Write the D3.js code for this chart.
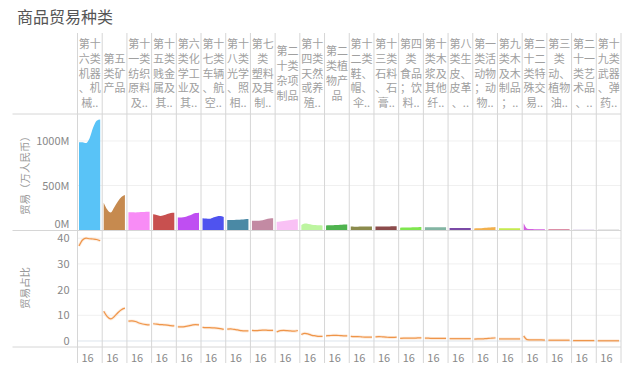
<!DOCTYPE html>
<html><head><meta charset="utf-8">
<script src="https://cdn.jsdelivr.net/npm/d3@7"></script>
<style>
html,body{margin:0;padding:0;background:#fff;}
svg text{font-family:"Noto Sans CJK SC","Noto Sans",sans-serif;}
</style></head>
<body><svg id="c" width="640" height="380"></svg>
<script>
const title = "商品贸易种类";
const categories = [
 "第十六类机器、机械器具、电气设备","第五类矿产品","第十一类纺织原料及纺织制品","第十五类贱金属及其制品",
 "第六类化学工业及其相关工业的产品","第十七类车辆、航空器、船舶","第十八类光学、照相、医疗等仪器","第七类塑料及其制品；橡胶",
 "第二十类杂项制品","第十四类天然或养殖珍珠、宝石","第二类植物产品","第十二类鞋、帽、伞等",
 "第十三类石料、石膏、水泥等制品","第四类食品；饮料、酒及醋；烟草","第十类木浆及其他纤维状纤维素浆","第八类生皮、皮革、毛皮及其制品",
 "第一类活动物；动物产品","第九类木及木制品；木炭","第二十二类特殊交易品及未分类商品","第三类动、植物油、脂及其分解产品",
 "第二十一类艺术品、收藏品及古物","第十九类武器、弹药及其零件"];
const headerLines = [
 ["第十","六类","机器","、机","械.."],["第五","类矿","产品"],["第十","一类","纺织","原料","及.."],["第十","五类","贱金","属及","其.."],
 ["第六","类化","学工","业及","其.."],["第十","七类","车辆","、航","空.."],["第十","八类","光学","、照","相.."],["第七","类","塑料","及其","制.."],
 ["第二","十类","杂项","制品"],["第十","四类","天然","或养","殖.."],["第二","类植","物产","品"],["第十","二类","鞋、","帽、","伞.."],
 ["第十","三类","石料","、石","膏.."],["第四","类","食品","；饮","料.."],["第十","类木","浆及","其他","纤.."],["第八","类生","皮、","皮革","、.."],
 ["第一","类活","动物","；动","物.."],["第九","类木","及木","制品","；.."],["第二","十二","类特","殊交","易.."],["第三","类","动、","植物","油.."],
 ["第二","十一","类艺","术品","、.."],["第十","九类","武器","、弹","药.."]];
const periods = [1,2,3,4,5,6,7];
const xLabel = "16";
// 贸易（万人民币）, in millions
const trade = [
 [985,985,976,1030,1150,1228,1240],
 [307,230,196,255,320,370,393],
 [200,198,197,199,201,204,206],
 [176,168,158,165,180,192,193],
 [140,140,145,160,175,190,195],
 [131,128,125,140,152,156,147],
 [112,111,112,114,117,121,124],
 [105,103,104,110,120,128,131],
 [92,95,100,106,112,117,120],
 [55,72,68,60,55,52,50],
 [50,52,53,55,58,61,63],
 [38,37,37,38,38,39,40],
 [38,39,39,38,39,41,43],
 [26,27,28,29,30,31,33],
 [32,31,30,30,31,32,30],
 [22,23,23,22,22,23,23],
 [18,19,21,24,27,30,34],
 [20,20,19,19,19,19,19],
 [75,15,10,9,9,9,9],
 [8,8,8,8,8,8,8],
 [4,4,4,4,4,4,4],
 [2,2,2,2,2,2,2]];
// 贸易占比 (%)
const share = [
 [37.0,39.3,40.0,39.8,39.7,39.5,39.0],
 [11.6,9.5,8.6,9.5,11.0,12.2,12.8],
 [7.7,7.8,7.6,7.0,6.6,6.4,6.3],
 [6.7,6.6,6.4,6.3,6.2,6.0,5.9],
 [5.5,5.5,5.6,5.9,6.2,6.4,6.3],
 [5.3,5.2,5.2,5.1,5.0,4.8,4.5],
 [4.6,4.7,4.5,4.3,4.0,3.9,3.9],
 [4.1,4.0,4.1,4.2,4.2,4.1,4.1],
 [3.5,4.0,4.1,4.0,3.9,3.8,4.1],
 [2.5,3.0,2.7,2.2,2.0,1.8,1.8],
 [2.0,2.1,2.2,2.2,2.1,2.0,2.0],
 [1.8,1.7,1.7,1.6,1.5,1.5,1.5],
 [1.6,1.7,1.6,1.5,1.4,1.4,1.5],
 [1.0,1.1,1.1,1.1,1.1,1.2,1.2],
 [1.1,1.1,1.0,1.0,1.0,1.0,1.0],
 [0.9,0.9,0.9,0.9,0.9,0.9,0.9],
 [0.7,0.8,0.8,0.9,1.0,1.1,1.2],
 [0.8,0.8,0.8,0.8,0.8,0.8,0.8],
 [2.0,0.5,0.4,0.4,0.4,0.4,0.3],
 [0.3,0.3,0.3,0.3,0.3,0.3,0.3],
 [0.15,0.15,0.15,0.15,0.15,0.15,0.15],
 [0.08,0.08,0.08,0.08,0.08,0.08,0.08]];
const colors = ["#59c3f7","#c68a4f","#f88cf6","#c8504f","#bf4ef2","#4f53ef","#4a89a5","#c38aa3",
 "#f9c1f5","#bdf5a0","#4fb34f","#8b8b4d","#8b4b4b","#7fe64f","#83b5a3","#7a4aa6",
 "#f2b04d","#c5ea4f","#d35fe0","#d06a8a","#b8a0d0","#a9a9a9"];
const tradeTicks = [0,500,1000];
const shareTicks = [0,10,20,30,40];
const tradeTitle = "贸易（万人民币）";
const shareTitle = "贸易占比";

const svg = d3.select("#c");
const L = 77.5, R = 621, hTop = 33, hBot = 114, midY = 230.5, botY = 347, axBot = 363, leftLine = 12.5;
const grey = "#d6d6d6";

svg.append("text").attr("x",17).attr("y",23).attr("font-size",16).attr("fill","#555").text(title);

const xBand = d3.scaleBand().domain(d3.range(categories.length)).range([L,R]).padding(0);
const yTrade = d3.scaleLinear().domain([0,1303]).range([230,114]);
const yShare = d3.scaleLinear().domain([-2.34,43.0]).range([botY,midY]);

// gridlines
const g = svg.append("g");
tradeTicks.filter(v=>v>0).forEach(v=>{
  g.append("line").attr("x1",L).attr("x2",R).attr("y1",yTrade(v)).attr("y2",yTrade(v)).attr("stroke","#f0f0f0");
});
shareTicks.filter(v=>v>0).forEach(v=>{
  g.append("line").attr("x1",L).attr("x2",R).attr("y1",yShare(v)).attr("y2",yShare(v)).attr("stroke","#f0f0f0");
});
g.append("line").attr("x1",L).attr("x2",R).attr("y1",yShare(0)).attr("y2",yShare(0))
  .attr("stroke","#b8c8d8").attr("stroke-dasharray","1,1");

categories.forEach((c,i)=>{
  const x0 = xBand(i), w = xBand.bandwidth();
  const xt = d3.scaleLinear().domain(d3.extent(periods)).range([x0+1.5, x0+w-2]);
  const area = d3.area().x((d,k)=>xt(periods[k])).y0(yTrade(0)).y1(d=>yTrade(d)).curve(d3.curveMonotoneX);
  svg.append("path").datum(trade[i]).attr("d",area).attr("fill",colors[i]);
  const line = d3.line().x((d,k)=>xt(periods[k])).y(d=>yShare(d)).curve(d3.curveMonotoneX);
  svg.append("path").datum(share[i]).attr("d",line).attr("fill","none")
    .attr("stroke","#fbd9bd").attr("stroke-width",3).attr("stroke-opacity",0.5);
  svg.append("path").datum(share[i]).attr("d",line).attr("fill","none")
    .attr("stroke","#ef9549").attr("stroke-width",1.2);
  const lines = headerLines[i];
  const lh = 14.8, cy = (hTop+hBot)/2;
  const t = svg.append("text").attr("font-size",11).attr("fill","#a0a0a0").attr("text-anchor","middle");
  lines.forEach((s,k)=>{
    t.append("tspan").attr("x",x0+w/2).attr("y",cy+(k-(lines.length-1)/2)*lh+4).text(s);
  });
  svg.append("text").attr("x",x0+4).attr("y",362).attr("font-size",11).attr("fill","#888")
    .attr("font-family","Lato, 'Open Sans', sans-serif").text(xLabel);
});

d3.range(categories.length+1).forEach(i=>{
  const x = i<categories.length ? xBand(i) : R;
  svg.append("line").attr("x1",x).attr("x2",x).attr("y1",hTop).attr("y2",axBot).attr("stroke",grey);
});
[hBot, midY, botY].forEach(y=>{
  svg.append("line").attr("x1",leftLine).attr("x2",R).attr("y1",y).attr("y2",y).attr("stroke",grey);
});

const ax1 = svg.append("g").attr("transform",`translate(${L-5},0)`)
  .call(d3.axisLeft(yTrade).tickValues(tradeTicks).tickSize(0).tickFormat(d=>d+"M"));
ax1.select(".domain").remove();
ax1.selectAll(".tick").filter(d=>d===0).attr("transform",`translate(0,${yTrade(0)-6})`);
const ax2 = svg.append("g").attr("transform",`translate(${L-5},0)`)
  .call(d3.axisLeft(yShare).tickValues(shareTicks).tickSize(0).tickFormat(d3.format("d")));
ax2.select(".domain").remove();
svg.selectAll(".tick text").attr("font-size",11).attr("fill","#888").attr("font-family","Lato, 'Open Sans', sans-serif");

svg.append("text").attr("transform",`translate(29,173) rotate(-90)`).attr("text-anchor","middle")
  .attr("font-size",10.5).attr("fill","#999").text(tradeTitle);
svg.append("text").attr("transform",`translate(29,288) rotate(-90)`).attr("text-anchor","middle")
  .attr("font-size",10.5).attr("fill","#999").text(shareTitle);
</script></body></html>
